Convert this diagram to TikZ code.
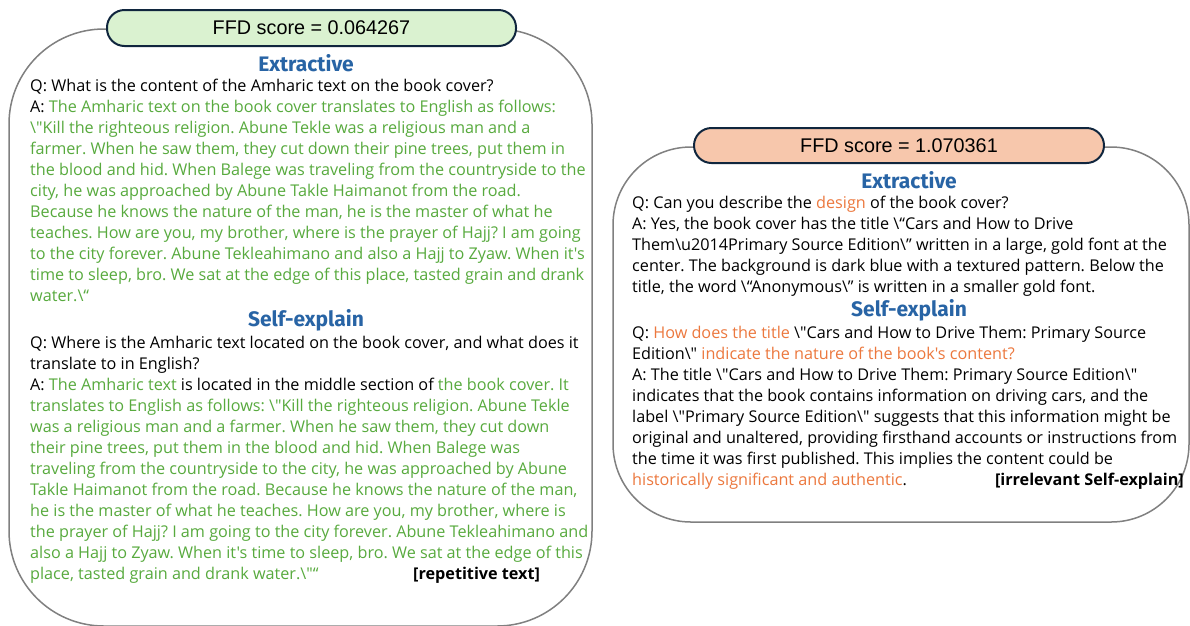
\documentclass[tikz,border=0pt]{standalone}
\usepackage{fontspec}
\setmainfont{Open Sans}[Ligatures=TeXOff]
\newfontfamily\headfont{Fira Sans}
\newfontfamily\scorefont{Liberation Sans}
\definecolor{txtgreen}{RGB}{88,170,62}
\definecolor{txtorange}{RGB}{236,120,62}
\definecolor{headblue}{RGB}{40,100,165}
\definecolor{outline}{RGB}{128,128,128}
\definecolor{scoreborder}{RGB}{16,38,62}
\definecolor{scoregreen}{RGB}{218,242,208}
\definecolor{scorepeach}{RGB}{247,199,172}
\newcommand\BSL{\textbackslash}
\newcommand\G[1]{\textcolor{txtgreen}{#1}}
\newcommand\Or[1]{\textcolor{txtorange}{#1}}
\frenchspacing
\tikzset{
  panel/.style={draw=outline, line width=1.5pt, fill=white, inner sep=0pt},
  scorebox/.style={draw=scoreborder, line width=2pt, rounded corners=17.5pt, inner sep=0pt, font=\scorefont\fontsize{19.8}{24}\selectfont},
  heading/.style={text=headblue, font=\headfont\bfseries\fontsize{21}{24}\selectfont, inner sep=0pt},
  body/.style={anchor=north west, align=left, inner sep=0pt, font=\fontsize{16.2}{21}\selectfont},
  tag/.style={inner sep=0pt, font=\bfseries\fontsize{16.2}{21}\selectfont}
}
\begin{document}
\begin{tikzpicture}[x=1pt,y=-1pt]
\useasboundingbox (0,0) rectangle (1190,625);
% left panel
\node[panel, rounded corners=95pt, minimum width=583pt, minimum height=597pt] (Lbox) at (300.5,327.5) {};
\node[scorebox, fill=scoregreen, minimum width=409pt, minimum height=36pt] (Lscore) at (311.5,28) {FFD score = 0.064267};
\node[heading] (Lhead1) at (306,63) {Extractive};
\node[body] (Lext) at (30,76.3) {\strut Q: What is the content of the Amharic text on the book cover?\\
A: \G{The Amharic text on the book cover translates to English as follows:}\\
\G{\BSL"Kill the righteous religion. Abune Tekle was a religious man and a}\\
\G{farmer. When he saw them, they cut down their pine trees, put them in}\\
\G{the blood and hid. When Balege was traveling from the countryside to the}\\
\G{city, he was approached by Abune Takle Haimanot from the road.}\\
\G{Because he knows the nature of the man, he is the master of what he}\\
\G{teaches. How are you, my brother, where is the prayer of Hajj? I am going}\\
\G{to the city forever. Abune Tekleahimano and also a Hajj to Zyaw. When it's}\\
\G{time to sleep, bro. We sat at the edge of this place, tasted grain and drank}\\
\G{water.\BSL“}};
\node[heading] (Lhead2) at (306,320) {Self-explain};
\node[body] (Lself) at (30,333.3) {\strut Q: Where is the Amharic text located on the book cover, and what does it\\
translate to in English?\\
A: \G{The Amharic text} is located in the middle section of \G{the book cover. It}\\
\G{translates to English as follows: \BSL"Kill the righteous religion. Abune Tekle}\\
\G{was a religious man and a farmer. When he saw them, they cut down}\\
\G{their pine trees, put them in the blood and hid. When Balege was}\\
\G{traveling from the countryside to the city, he was approached by Abune}\\
\G{Takle Haimanot from the road. Because he knows the nature of the man,}\\
\G{he is the master of what he teaches. How are you, my brother, where is}\\
\G{the prayer of Hajj? I am going to the city forever. Abune Tekleahimano and}\\
\G{also a Hajj to Zyaw. When it's time to sleep, bro. We sat at the edge of this}\\
\G{place, tasted grain and drank water.\BSL"“}};
\node[tag, anchor=base west] (Ltag) at (413,579) {[repetitive text]};
% right panel
\node[panel, rounded corners=78pt, minimum width=576pt, minimum height=375pt] (Rbox) at (901,334.5) {};
\node[scorebox, fill=scorepeach, minimum width=410pt, minimum height=35pt] (Rscore) at (899,145.5) {FFD score = 1.070361};
\node[heading] (Rhead1) at (909,180) {Extractive};
\node[body] (Rext) at (632,193.3) {\strut Q: Can you describe the \Or{design} of the book cover?\\
A: Yes, the book cover has the title \BSL“Cars and How to Drive\\
Them\BSL u2014Primary Source Edition\BSL” written in a large, gold font at the\\
center. The background is dark blue with a textured pattern. Below the\\
title, the word \BSL“Anonymous\BSL” is written in a smaller gold font.};
\node[heading] (Rhead2) at (909,310) {Self-explain};
\node[body] (Rself) at (632,323.3) {\strut Q: \Or{How does the title} \BSL"Cars and How to Drive Them: Primary Source\\
Edition\BSL" \Or{indicate the nature of the book's content?}\\
A: The title \BSL"Cars and How to Drive Them: Primary Source Edition\BSL"\\
indicates that the book contains information on driving cars, and the\\
label \BSL"Primary Source Edition\BSL" suggests that this information might be\\
original and unaltered, providing firsthand accounts or instructions from\\
the time it was first published. This implies the content could be\\
\Or{historically significant and authentic}.};
\node[tag, anchor=base east] (Rtag) at (1184,485) {[irrelevant Self-explain]};
\end{tikzpicture}
\end{document}
